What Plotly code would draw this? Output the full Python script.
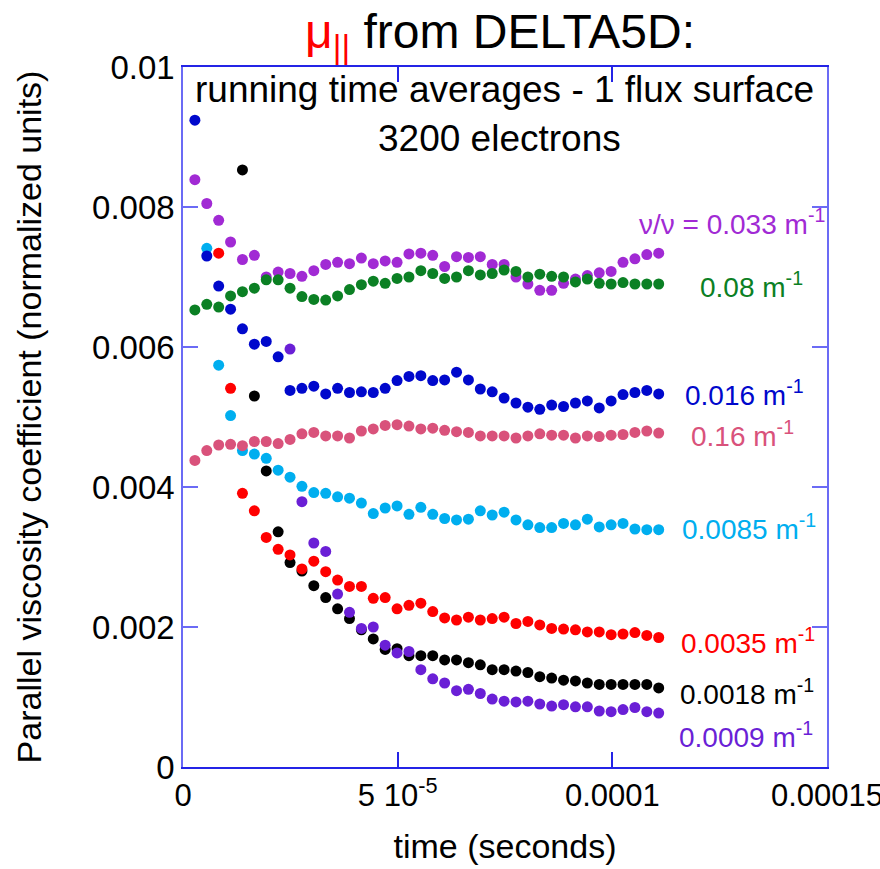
import plotly.graph_objects as go

# time grid (microseconds) of the running averages
times_us = [2.77, 5.54, 8.31, 11.08, 13.85, 16.62, 19.39, 22.16, 24.93, 27.70,
            30.47, 33.24, 36.01, 38.78, 41.55, 44.32, 47.09, 49.86, 52.63, 55.40,
            58.17, 60.94, 63.71, 66.48, 69.25, 72.02, 74.79, 77.56, 80.33, 83.10,
            85.87, 88.64, 91.41, 94.18, 96.95, 99.72, 102.49, 105.26, 108.03, 110.80]
times = [t * 1e-6 for t in times_us]

mu_0033 = [0.00839, 0.00805, 0.00781, 0.00750, 0.00725, 0.00731, 0.00700, 0.00707, 0.00705, 0.00701,
           0.00709, 0.00718, 0.00721, 0.00719, 0.00727, 0.00719, 0.00723, 0.00721, 0.00733, 0.00734,
           0.00731, 0.00715, 0.00729, 0.00728, 0.00729, 0.00718, 0.00718, 0.00700, 0.00690, 0.00681,
           0.00681, 0.00691, 0.00697, 0.00702, 0.00706, 0.00708, 0.00721, 0.00726, 0.00732, 0.00734]
mu_008 = [0.00653, 0.00661, 0.00657, 0.00673, 0.00679, 0.00684, 0.00696, 0.00696, 0.00684, 0.00672,
          0.00668, 0.00667, 0.00673, 0.00682, 0.00689, 0.00694, 0.00691, 0.00698, 0.00700, 0.00709,
          0.00705, 0.00698, 0.00700, 0.00709, 0.00703, 0.00705, 0.00710, 0.00708, 0.00700, 0.00704,
          0.00701, 0.00700, 0.00693, 0.00697, 0.00691, 0.00690, 0.00692, 0.00690, 0.00690, 0.00690]
mu_0016 = [0.00924, 0.00730, 0.00687, 0.00654, 0.00626, 0.00604, 0.00608, 0.00586, 0.00538, 0.00541,
           0.00544, 0.00533, 0.00541, 0.00535, 0.00536, 0.00535, 0.00541, 0.00552, 0.00558, 0.00559,
           0.00552, 0.00553, 0.00564, 0.00553, 0.00540, 0.00536, 0.00527, 0.00520, 0.00514, 0.00511,
           0.00517, 0.00515, 0.00520, 0.00523, 0.00513, 0.00523, 0.00532, 0.00535, 0.00538, 0.00533]
mu_016 = [0.00438, 0.00452, 0.00460, 0.00461, 0.00459, 0.00465, 0.00465, 0.00462, 0.00468, 0.00476,
          0.00478, 0.00473, 0.00473, 0.00470, 0.00480, 0.00483, 0.00488, 0.00489, 0.00487, 0.00483,
          0.00484, 0.00481, 0.00479, 0.00478, 0.00473, 0.00473, 0.00473, 0.00470, 0.00473, 0.00476,
          0.00474, 0.00474, 0.00470, 0.00473, 0.00472, 0.00474, 0.00475, 0.00478, 0.00480, 0.00477]
mu_00085 = [None, 0.00741, 0.00574, 0.00502, 0.00452, 0.00447, 0.00441, 0.00424, 0.00414, 0.00401,
            0.00392, 0.00391, 0.00386, 0.00384, 0.00377, 0.00362, 0.00370, 0.00373, 0.00361, 0.00371,
            0.00361, 0.00355, 0.00353, 0.00354, 0.00366, 0.00360, 0.00364, 0.00353, 0.00346, 0.00342,
            0.00342, 0.00348, 0.00346, 0.00354, 0.00343, 0.00346, 0.00348, 0.00340, 0.00339, 0.00339]
mu_00035 = [None, None, 0.00734, 0.00541, 0.00391, 0.00366, 0.00328, 0.00311, 0.00303, 0.00283,
            0.00294, 0.00279, 0.00267, 0.00258, 0.00258, 0.00241, 0.00242, 0.00226, 0.00231, 0.00234,
            0.00222, 0.00213, 0.00210, 0.00214, 0.00210, 0.00212, 0.00214, 0.00205, 0.00208, 0.00203,
            0.00198, 0.00197, 0.00196, 0.00193, 0.00193, 0.00189, 0.00190, 0.00192, 0.00188, 0.00185]
mu_00018 = [None, None, None, None, 0.00853, 0.00530, 0.00423, 0.00336, 0.00292, 0.00280,
            0.00259, 0.00242, 0.00226, 0.00212, 0.00196, 0.00183, 0.00168, 0.00169, 0.00159, 0.00159,
            0.00159, 0.00153, 0.00153, 0.00149, 0.00146, 0.00139, 0.00139, 0.00137, 0.00135, 0.00129,
            0.00127, 0.00124, 0.00123, 0.00120, 0.00118, 0.00118, 0.00118, 0.00118, 0.00118, 0.00113]
mu_00009 = [None, None, None, None, None, None, None, None, 0.00597, 0.00379,
            0.00320, 0.00308, 0.00247, 0.00221, 0.00198, 0.00200, 0.00174, 0.00163, 0.00165, 0.00139,
            0.00126, 0.00120, 0.00109, 0.00111, 0.00105, 0.00097, 0.00094, 0.00093, 0.00094, 0.00090,
            0.00087, 0.00089, 0.00086, 0.00086, 0.00080, 0.00079, 0.00082, 0.00085, 0.00079, 0.00077]

series_labels = ["ν/ν = 0.033 m<sup>-1</sup>", "0.08 m<sup>-1</sup>", "0.016 m<sup>-1</sup>",
                 "0.16 m<sup>-1</sup>", "0.0085 m<sup>-1</sup>", "0.0035 m<sup>-1</sup>",
                 "0.0018 m<sup>-1</sup>", "0.0009 m<sup>-1</sup>"]

x_tickvals = [0, 5e-5, 1e-4, 1.5e-4]
x_ticktext = ["0", "5 10<sup>-5</sup>", "0.0001", "0.00015"]
y_tickvals = [0, 0.002, 0.004, 0.006, 0.008, 0.01]
y_ticktext = ["0", "0.002", "0.004", "0.006", "0.008", "0.01"]

FONT = "Liberation Sans, Arial, sans-serif"
W, H = 880, 869
L, R, T, B = 183, 53, 67, 102


def pxx(xp):
    return (xp - L) / (W - L - R)


def pxy(yp):
    return (H - B - yp) / (H - T - B)


colors = {
    "0033": "#a12ad4", "008": "#0b8024", "0016": "#0008cc", "016": "#d9527b",
    "00085": "#00aeef", "00035": "#ff0000", "00018": "#000000", "00009": "#6a1fd6",
}

# drawing order (later on top)
order = [("00085", mu_00085), ("0016", mu_0016), ("016", mu_016), ("00018", mu_00018),
         ("00035", mu_00035), ("00009", mu_00009), ("0033", mu_0033), ("008", mu_008)]

fig = go.Figure()
for key, vals in order:
    fig.add_trace(go.Scatter(x=times, y=vals, mode="markers",
                             marker=dict(size=11, color=colors[key]),
                             showlegend=False, hoverinfo="skip"))

# right-hand labels: (text, color, left px, center y px)
label_pos = [
    (series_labels[0], colors["0033"], 637, 222),
    (series_labels[1], colors["008"], 698, 285),
    (series_labels[2], colors["0016"], 683, 393),
    (series_labels[3], colors["016"], 689, 434),
    (series_labels[4], colors["00085"], 680, 527),
    (series_labels[5], colors["00035"], 679, 641),
    (series_labels[6], colors["00018"], 678, 692),
    (series_labels[7], colors["00009"], 677, 735),
]
annotations = []
for text, col, xl, yc in label_pos:
    annotations.append(dict(text=text, x=pxx(xl), y=pxy(yc), xref="paper", yref="paper",
                            xanchor="left", yanchor="middle", showarrow=False,
                            font=dict(family=FONT, size=28, color=col)))

annotations.append(dict(text="<span style='color:#ff0000'>μ<sub>||</sub></span> from DELTA5D:",
                        x=pxx(500), y=pxy(35), xref="paper", yref="paper",
                        xanchor="center", yanchor="middle", showarrow=False,
                        font=dict(family=FONT, size=48, color="black")))
annotations.append(dict(text="running time averages - 1 flux surface",
                        x=pxx(504), y=pxy(90), xref="paper", yref="paper",
                        xanchor="center", yanchor="middle", showarrow=False,
                        font=dict(family=FONT, size=37, color="black")))
annotations.append(dict(text="3200 electrons",
                        x=pxx(499), y=pxy(138), xref="paper", yref="paper",
                        xanchor="center", yanchor="middle", showarrow=False,
                        font=dict(family=FONT, size=37, color="black")))

fig.update_layout(
    width=W, height=H,
    margin=dict(l=L, r=R, t=T, b=B, autoexpand=False),
    paper_bgcolor="white", plot_bgcolor="white",
    font=dict(family=FONT, color="black"),
    annotations=annotations,
    xaxis=dict(range=[0, 1.5e-4], tickvals=x_tickvals, ticktext=x_ticktext,
               ticks="inside", ticklen=15, tickwidth=1.5, tickcolor="#2424e6",
               showline=True, linecolor="#2424e6", linewidth=1.5, mirror="ticks",
               showgrid=False, zeroline=False, ticklabeloverflow="allow", automargin=False,
               tickfont=dict(family=FONT, size=31, color="black"),
               title=dict(text="time (seconds)", font=dict(family=FONT, size=34, color="black"),
                          standoff=22)),
    yaxis=dict(range=[0, 0.01], tickvals=y_tickvals, ticktext=y_ticktext,
               ticks="inside", ticklen=15, tickwidth=1.5, tickcolor="#6b6bf5",
               showline=True, linecolor="#6b6bf5", linewidth=1.5, mirror="ticks",
               showgrid=False, zeroline=False,
               tickfont=dict(family=FONT, size=33, color="black"),
               title=dict(text="Parallel viscosity coefficient (normalized units)",
                          font=dict(family=FONT, size=34, color="black"), standoff=40)),
)

fig.write_html("out.html", config={"displayModeBar": False},
               post_script="document.body.style.margin='0px';")
